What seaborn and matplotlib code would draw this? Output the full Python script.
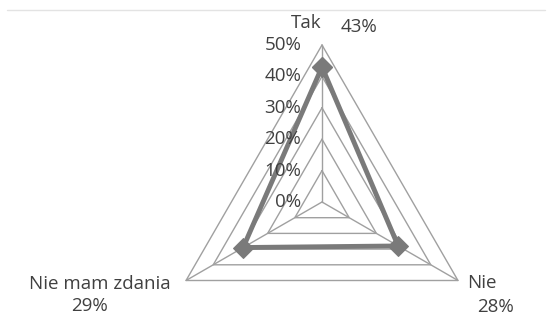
import numpy as np
import matplotlib
matplotlib.use("Agg")
import matplotlib.pyplot as plt
from matplotlib.lines import Line2D
import seaborn as sns

# data
categories = ["Tak", "Nie", "Nie mam zdania"]
values = [43, 28, 29]
levels = [10, 20, 30, 40, 50]
level_labels = ["0%", "10%", "20%", "30%", "40%", "50%"]

W, H = 547, 317
sns.set_style("white")
plt.rcParams["font.family"] = ["Open Sans", "DejaVu Sans"]
txt_color = "#404040"
fs = 13.5

fig = plt.figure(figsize=(W / 100, H / 100), dpi=100)
cx, cy, R = 322, 202, 157
ax = fig.add_axes([(cx - R) / W, (H - cy - R) / H, 2 * R / W, 2 * R / H],
                  projection="polar")
ax.set_theta_zero_location("N")
ax.set_theta_direction(-1)
ax.set_ylim(0, 0.5)
ax.grid(False)
ax.set_xticks([])
ax.set_yticks([])
ax.spines["polar"].set_visible(False)
ax.patch.set_alpha(0)

n = len(categories)
theta = np.linspace(0, 2 * np.pi, n, endpoint=False)
theta_closed = np.append(theta, 2 * np.pi)

# triangular grid
for lv in levels:
    r = [lv / 100] * (n + 1)
    ax.plot(theta_closed, r, color="#a0a0a0", lw=1, clip_on=False, zorder=1)
for t in theta:
    ax.plot([t, t], [0, max(levels) / 100], color="#a0a0a0", lw=1,
            clip_on=False, zorder=1)

# series
vals = np.array(values + values[:1]) / 100
sns.lineplot(x=theta_closed, y=vals, sort=False, estimator=None, ax=ax,
             color="#7a7a7a", lw=3.5, marker="D", markersize=10,
             markeredgecolor="#7a7a7a", clip_on=False, zorder=3)
if ax.get_legend():
    ax.get_legend().remove()
ax.set_xlabel("")
ax.set_ylabel("")

# radial value labels
for i, lab in enumerate(level_labels):
    ax.annotate(lab, xy=(0, i / 10), xytext=(-15, 0), textcoords="offset points",
                ha="right", va="center", fontsize=fs, color=txt_color)

# category and data labels
def ptext(x, y, s):
    fig.text(x / W, 1 - y / H, s, ha="center", va="center",
             fontsize=fs, color=txt_color)

ptext(306, 23, categories[0])
ptext(359, 27, f"{values[0]}%")
ptext(482, 283, categories[1])
ptext(496, 307, f"{values[1]}%")
ptext(100, 284, categories[2])
ptext(89, 306, f"{values[2]}%")

fig.add_artist(Line2D([7 / W, 545 / W], [1 - 10 / H] * 2, color="#e3e3e3", lw=1))

fig.savefig("out.png", dpi=100)
